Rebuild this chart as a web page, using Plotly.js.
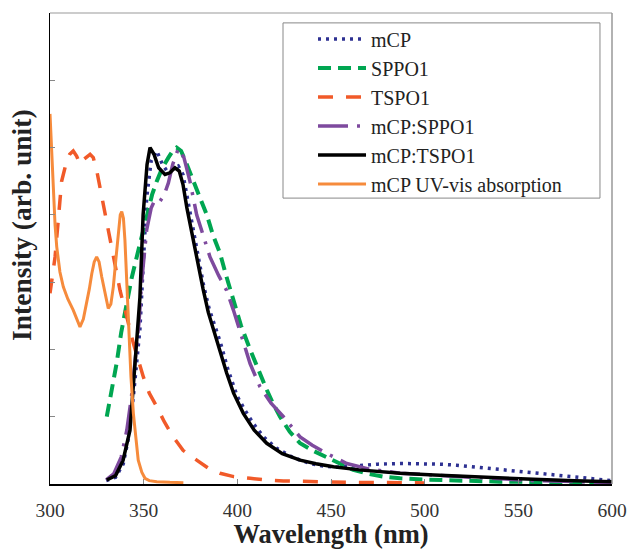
<!DOCTYPE html>
<html>
<head>
<meta charset="utf-8">
<script src="https://cdn.plot.ly/plotly-3.0.1.min.js"></script>
<style>html,body{margin:0;padding:0;background:#fff;}#chart{width:630px;height:549px;}</style>
</head>
<body>
<div id="chart"></div>
<script>
// mCP (dotted)
var mcpX = [330, 335, 339.1, 342, 344.5, 348, 349.8, 351.6, 354, 357, 360, 362.5, 365.5, 368.5, 371, 373, 376, 379, 382, 385, 388, 391, 395, 400, 404, 408.5, 414, 421, 430, 438.8, 445, 452.5, 458, 465.5, 475, 486.9, 497, 508.2, 517, 525.8, 538, 551, 563, 575.9, 588, 600];
var mcpY = [0.01, 0.02, 0.06, 0.14, 0.26, 0.46, 0.655, 0.85, 0.96, 0.99, 0.95, 0.93, 0.935, 0.945, 0.92, 0.86, 0.78, 0.69, 0.59, 0.52, 0.47, 0.42, 0.34, 0.26, 0.22, 0.18, 0.14, 0.106, 0.078, 0.061, 0.054, 0.05, 0.052, 0.056, 0.059, 0.061, 0.061, 0.059, 0.056, 0.051, 0.044, 0.037, 0.029, 0.022, 0.015, 0.01];
// SPPO1 (green dashed)
var sppoX = [330.3, 333, 335.6, 338, 341, 343.5, 346.3, 349, 351.6, 354.5, 357, 360, 363.2, 365.5, 367.6, 370, 373, 376.5, 380, 383.7, 387, 390.8, 394, 397.9, 402, 406.8, 411, 415.7, 419, 422.8, 428, 433.5, 440, 447.7, 455, 461.9, 470, 478, 486.9, 500, 522.5, 540, 558, 580, 600];
var sppoY = [0.20, 0.28, 0.36, 0.45, 0.537, 0.61, 0.675, 0.74, 0.80, 0.86, 0.90, 0.94, 0.97, 0.99, 1.0, 0.99, 0.95, 0.90, 0.85, 0.80, 0.74, 0.685, 0.62, 0.546, 0.47, 0.40, 0.34, 0.28, 0.24, 0.20, 0.155, 0.121, 0.10, 0.081, 0.06, 0.042, 0.03, 0.022, 0.017, 0.013, 0.009, 0.007, 0.006, 0.005, 0.004];
// TSPO1 (red long dashed)
var tspoX = [300, 301.5, 302.7, 304.5, 306.2, 308.9, 310.5, 312.4, 314.2, 316, 318, 321.4, 323.1, 325, 326.7, 328.5, 330.3, 333.8, 337.4, 341, 344.5, 349.8, 353, 357, 361, 365.8, 371, 378.3, 385, 390.8, 398, 406.8, 415, 424.6, 441, 460, 487, 500];
var tspoY = [0.567, 0.62, 0.675, 0.79, 0.90, 0.96, 0.98, 0.99, 0.975, 0.95, 0.965, 0.98, 0.97, 0.93, 0.88, 0.83, 0.775, 0.675, 0.575, 0.497, 0.418, 0.319, 0.27, 0.23, 0.185, 0.14, 0.10, 0.071, 0.045, 0.032, 0.022, 0.017, 0.012, 0.009, 0.006, 0.005, 0.004, 0.003];
// mCP:SPPO1 (purple dash-dot)
var mSppoX = [330, 334, 338, 341, 343.5, 345.4, 347.5, 349, 351.6, 354, 356, 358.7, 361, 363.2, 365.5, 368.5, 371.5, 374.7, 378.3, 382, 385.4, 390, 394.3, 397.9, 402, 406.8, 412, 418, 424.6, 433.5, 440, 447.7, 458.4, 470, 486.9, 505, 522.5, 540, 558, 580, 600];
var mSppoY = [0.012, 0.03, 0.08, 0.16, 0.26, 0.36, 0.48, 0.605, 0.755, 0.82, 0.845, 0.84, 0.86, 0.895, 0.95, 0.997, 0.97, 0.90, 0.80, 0.735, 0.675, 0.62, 0.575, 0.517, 0.44, 0.358, 0.29, 0.24, 0.20, 0.14, 0.115, 0.091, 0.061, 0.045, 0.032, 0.026, 0.02, 0.015, 0.01, 0.007, 0.004];
// mCP:TSPO1 (black solid)
var mTspoX = [330.3, 335, 339, 342.7, 345.4, 348, 349.7, 351.8, 353.4, 355.5, 358, 361.4, 364, 366.7, 369, 371, 373.1, 375.5, 378.5, 381.7, 384.5, 387.2, 390.8, 394.3, 398, 403.2, 409, 415.7, 424, 433.5, 442, 451.3, 465, 486.9, 505, 522.5, 540, 558, 580, 600];
var mTspoY = [0.012, 0.025, 0.07, 0.16, 0.36, 0.555, 0.80, 0.95, 1.0, 0.98, 0.94, 0.92, 0.925, 0.94, 0.93, 0.89, 0.82, 0.75, 0.67, 0.58, 0.51, 0.46, 0.40, 0.33, 0.27, 0.21, 0.16, 0.121, 0.09, 0.071, 0.06, 0.051, 0.042, 0.032, 0.027, 0.022, 0.018, 0.014, 0.010, 0.007];
// mCP UV-vis absorption (orange solid)
var absX = [300, 300.8, 301.8, 302.7, 303.6, 305.3, 307.1, 309.5, 312.4, 314.5, 316, 317.8, 319.6, 321, 322.3, 323.6, 324.9, 326.2, 327.6, 329.5, 331.1, 332.5, 333.8, 335.2, 336.5, 337.5, 338.3, 339.2, 340, 341, 341.8, 343.2, 344.5, 345.8, 347.1, 349, 350.7, 353, 357, 364, 371.2];
var absY = [1.10, 1.0, 0.853, 0.77, 0.705, 0.63, 0.586, 0.55, 0.517, 0.49, 0.467, 0.49, 0.537, 0.58, 0.625, 0.66, 0.675, 0.66, 0.616, 0.56, 0.522, 0.535, 0.586, 0.67, 0.755, 0.80, 0.81, 0.79, 0.725, 0.60, 0.457, 0.32, 0.21, 0.13, 0.071, 0.035, 0.017, 0.01, 0.007, 0.005, 0.004];

var names = ["mCP", "SPPO1", "TSPO1", "mCP:SPPO1", "mCP:TSPO1", "mCP UV-vis absorption"];
var xTicks = [300, 350, 400, 450, 500, 550, 600];
var xTitle = "Wavelength (nm)";
var yTitle = "Intensity (arb. unit)";

function tr(x, y, name, color, width, dash) {
  return {x: x, y: y, name: name, type: "scatter", mode: "lines", legendgroup: name,
    line: {color: color, width: width, dash: dash}};
}
var data = [
  tr(mcpX, mcpY, names[0], "#2e3192", 3.5, "3px,5px"),
  tr(sppoX, sppoY, names[1], "#00a651", 4, "13px,7px"),
  tr(tspoX, tspoY, names[2], "#f15a29", 3.5, "15px,13px"),
  tr(mSppoX, mSppoY, names[3], "#7e4a9e", 3.5, "30px,9px,3px,9px"),
  tr(mTspoX, mTspoY, names[4], "#000000", 3.5, "solid"),
  tr(absX, absY, names[5], "#f68b3c", 3, "solid")
];

var serif = "Liberation Serif, Times New Roman, serif";
var layout = {
  width: 630, height: 549,
  margin: {l: 50, r: 18, t: 13, b: 65},
  paper_bgcolor: "#fff", plot_bgcolor: "#fff",
  font: {family: serif, color: "#222"},
  showlegend: true,
  legend: {x: 0.468, y: 0.986, xanchor: "left", yanchor: "top", bgcolor: "rgba(0,0,0,0)",
    borderwidth: 0, font: {family: serif, size: 20, color: "#222"}, tracegroupgap: 0, itemwidth: 48},
  xaxis: {range: [300, 600], tickvals: xTicks, ticktext: xTicks.map(String), ticks: "inside", ticklen: 5,
    tickcolor: "#888", showline: true, linecolor: "#000", linewidth: 1.5, showgrid: false, zeroline: false,
    ticklabelstandoff: 8,
    tickfont: {family: serif, size: 19.5, color: "#333"},
    title: {text: "<b>" + xTitle + "</b>", font: {family: serif, size: 26.5, color: "#222"}, standoff: 12}},
  yaxis: {range: [0, 1.4], dtick: 0.2, tick0: 0, ticks: "inside", ticklen: 5, tickcolor: "#888",
    showticklabels: false, showline: true, linecolor: "#000", linewidth: 1.5, showgrid: false, zeroline: false},
  annotations: [
    {text: "<b>" + yTitle + "</b>", xref: "paper", yref: "paper", x: -0.0498, y: 0.548,
     xanchor: "center", yanchor: "middle", textangle: -90, showarrow: false,
     font: {family: serif, size: 27.5, color: "#222"}}
  ],
  shapes: [
    {type: "line", xref: "paper", yref: "paper", x0: 0, x1: 1, y0: 1, y1: 1, line: {color: "#999", width: 1}},
    {type: "line", xref: "paper", yref: "paper", x0: 1, x1: 1, y0: 0, y1: 1, line: {color: "#999", width: 1.5}},
    {type: "rect", xref: "paper", yref: "paper", x0: 0.4146, x1: 0.9786, y0: 0.607, y1: 0.979, line: {color: "#888", width: 1}}
  ]
};
Plotly.newPlot("chart", data, layout, {displayModeBar: false, staticPlot: true});
</script>
</body>
</html>
